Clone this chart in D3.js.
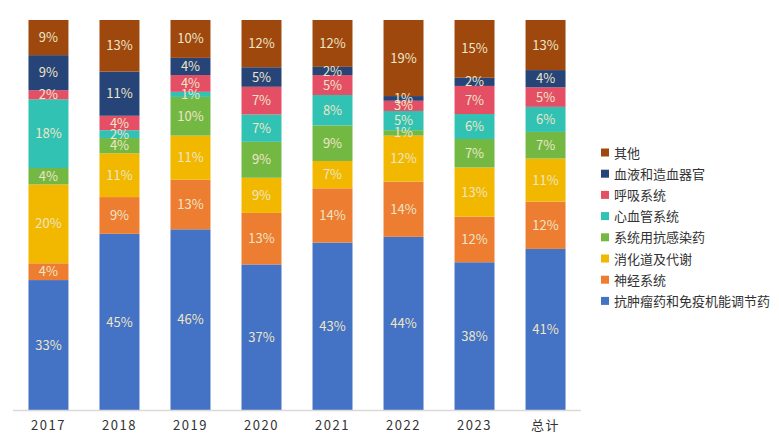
<!DOCTYPE html>
<html><head><meta charset="utf-8">
<script src="https://cdn.jsdelivr.net/npm/d3@7"></script>
<style>
html,body{margin:0;padding:0;background:#fff;}
svg{display:block;font-family:"Noto Sans CJK SC","Microsoft YaHei",sans-serif;}
</style></head>
<body><svg id="c" width="779" height="445"></svg>
<script>
const categories = ["2017","2018","2019","2020","2021","2022","2023","总计"];
const seriesNames = ["抗肿瘤药和免疫机能调节药","神经系统","消化道及代谢","系统用抗感染药","心血管系统","呼吸系统","血液和造血器官","其他"];
const antitumor   = [33.4, 45.2, 46.4, 37.4, 43.0, 44.3, 38.0, 41.3];
const nervous     = [ 4.3,  9.4, 12.7, 13.2, 13.9, 14.1, 11.7, 12.1];
const digestive   = [20.2, 11.2, 11.3,  9.0,  7.0, 11.7, 12.6, 11.0];
const antiInfect  = [ 4.2,  3.9,  9.9,  9.2,  9.1,  1.4,  7.3,  6.8];
const cardio      = [17.6,  2.0,  1.3,  7.0,  7.8,  4.9,  6.4,  6.4];
const respiratory = [ 2.3,  3.7,  4.3,  7.1,  5.1,  2.6,  7.2,  5.0];
const blood       = [ 9.0, 11.3,  4.4,  5.0,  2.1,  1.2,  2.1,  4.4];
const others      = [ 9.0, 13.2,  9.7, 12.1, 12.0, 19.4, 14.8, 12.8];
const colors = ["#4472C4","#ED7D31","#F2B800","#74B844","#31C2B4","#E54F65","#264478","#9E480E"];

const seriesValues = [antitumor, nervous, digestive, antiInfect, cardio, respiratory, blood, others];
const rows = categories.map((c,i)=>{
  const r = {cat:c};
  seriesNames.forEach((s,j)=> r[s] = seriesValues[j][i]);
  return r;
});

const svg = d3.select("#c");
const x = d3.scaleBand().domain(categories).range([13,581]).paddingInner(0.437).paddingOuter(0.218);
const y = d3.scaleLinear().domain([0,1]).range([410.5,20]);

const stack = d3.stack().keys(seriesNames).offset(d3.stackOffsetExpand);
const layers = stack(rows);

const g = svg.append("g");
layers.forEach((layer,j)=>{
  g.selectAll(null).data(layer).enter().append("rect")
    .attr("x", d=>x(d.data.cat))
    .attr("width", x.bandwidth())
    .attr("y", d=>y(d[1]))
    .attr("height", d=>y(d[0])-y(d[1]))
    .attr("fill", colors[j]);
});
layers.forEach((layer,j)=>{
  g.selectAll(null).data(layer).enter().append("text")
    .attr("x", d=>x(d.data.cat)+x.bandwidth()/2)
    .attr("y", d=>(y(d[0])+y(d[1]))/2)
    .attr("dy","0.35em")
    .attr("text-anchor","middle")
    .attr("font-size",13)
    .attr("fill","#EDE5C6")
    .text(d=>Math.round(d.data[seriesNames[j]])+"%");
});

// axis
const ax = svg.append("g").attr("transform","translate(0,410.5)")
  .call(d3.axisBottom(x).tickSize(0).tickPadding(10));
ax.select(".domain").attr("stroke","#D9D9D9").attr("stroke-width",1.5).attr("d","M13,0H581");
ax.selectAll("text").attr("font-size",13).attr("fill","#333").attr("letter-spacing","1.5px")
  .attr("font-family","'Noto Sans CJK SC',sans-serif");

// legend
const legendOrder = seriesNames.map((s,i)=>({s,c:colors[i]})).reverse();
const lg = svg.append("g");
legendOrder.forEach((d,i)=>{
  const yy = 153 + i*21.2;
  lg.append("rect").attr("x",601).attr("y",yy-4.5).attr("width",8).attr("height",8).attr("fill",d.c);
  lg.append("text").attr("x",614).attr("y",yy).attr("dy","0.35em").attr("font-size",13).attr("fill","#333").text(d.s);
});
</script></body></html>
